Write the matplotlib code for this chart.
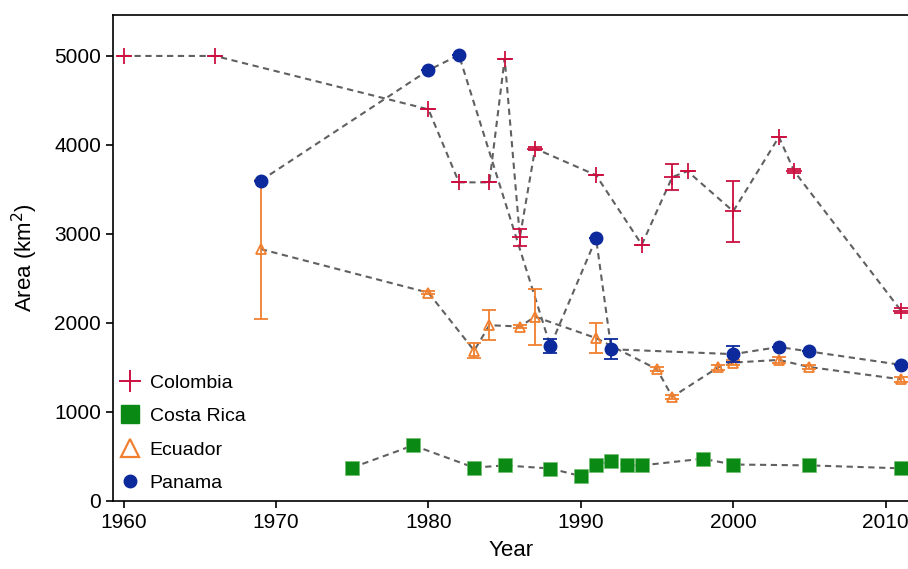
import numpy as np
import matplotlib
matplotlib.use('Agg')
import matplotlib.pyplot as plt
from matplotlib.lines import Line2D

plt.rcParams['font.family'] = ['Liberation Sans', 'DejaVu Sans']

# Colombia
col_year = [1960, 1966, 1980, 1982, 1984, 1985, 1986, 1987, 1991, 1994, 1996, 1997, 2000, 2003, 2004, 2011]
col_area = [5000, 5000, 4400, 3580, 3580, 4970, 2965, 3960, 3660, 2880, 3640, 3705, 3255, 4090, 3705, 2140]
col_err = [0, 0, 0, 0, 0, 0, 95, 20, 0, 0, 150, 0, 345, 0, 25, 25]

# Costa Rica
cr_year = [1975, 1979, 1983, 1985, 1988, 1990, 1991, 1992, 1993, 1994, 1998, 2000, 2005, 2011]
cr_area = [375, 625, 375, 400, 365, 280, 400, 455, 400, 400, 475, 410, 400, 367]

# Ecuador
ec_year = [1969, 1980, 1983, 1984, 1986, 1987, 1991, 1995, 1996, 1999, 2000, 2003, 2005, 2011]
ec_area = [2830, 2340, 1690, 1975, 1960, 2070, 1830, 1480, 1170, 1500, 1555, 1585, 1505, 1367]
ec_err = [780, 20, 85, 170, 20, 315, 165, 25, 25, 25, 30, 30, 25, 25]

# Panama
pa_year = [1969, 1980, 1982, 1988, 1991, 1992, 2000, 2003, 2005, 2011]
pa_area = [3600, 4840, 5010, 1740, 2950, 1705, 1650, 1730, 1680, 1530]
pa_err = [0, 0, 0, 75, 0, 110, 90, 0, 0, 0]

RED = '#cc1040'
GREEN = '#0a8a14'
ORANGE = '#f08030'
BLUE = '#0c2a9c'
DASH = '#606060'

fig = plt.figure(figsize=(9.08, 5.69), dpi=100)
ax = fig.add_axes([113 / 908, 68 / 569, 797 / 908, 486 / 569])

for yrs, vals in [(col_year, col_area), (cr_year, cr_area), (ec_year, ec_area), (pa_year, pa_area)]:
    ax.plot(yrs, vals, linestyle=(0, (3, 2.2)), color=DASH, linewidth=1.5, zorder=1)

ax.errorbar(ec_year, ec_area, yerr=ec_err, fmt='^', ms=7, mfc='none', mec=ORANGE,
            mew=1.3, ecolor=ORANGE, elinewidth=1.3, capsize=5, capthick=1.3, zorder=3)
ax.errorbar(col_year, col_area, yerr=col_err, fmt='+', ms=11, mec=RED, mew=1.3,
            ecolor=RED, elinewidth=1.3, capsize=5, capthick=1.3, zorder=3)
ax.errorbar(pa_year, pa_area, yerr=pa_err, fmt='o', ms=9, mfc=BLUE, mec=BLUE,
            ecolor=BLUE, elinewidth=1.3, capsize=5, capthick=1.3, zorder=4)
ax.plot(cr_year, cr_area, 's', ms=10, color=GREEN, mec='#6fbf6f', mew=0.5, zorder=4)

ax.set_xlim(1959.3, 2011.6)
ax.set_ylim(0, 5460)
ax.set_xticks(np.arange(1960, 2011, 10))
ax.set_yticks(np.arange(0, 5001, 1000))
ax.tick_params(labelsize=15, length=5, width=1.2)
for s in ax.spines.values():
    s.set_linewidth(1.2)
ax.set_xlabel('Year', fontsize=16, labelpad=6)
ax.set_ylabel('Area (km$^2$)', fontsize=16, labelpad=10)

handles = [
    Line2D([], [], linestyle='none', marker='+', ms=16, mew=1.4, color=RED),
    Line2D([], [], linestyle='none', marker='s', ms=13, color=GREEN),
    Line2D([], [], linestyle='none', marker='^', ms=13, mfc='none', mec=ORANGE, mew=1.6),
    Line2D([], [], linestyle='none', marker='o', ms=9, color=BLUE),
]
ax.legend(handles, ['Colombia', 'Costa Rica', 'Ecuador', 'Panama'], loc='lower left',
          frameon=False, fontsize=14, handlelength=1.0, handletextpad=0.5,
          labelspacing=0.82, borderaxespad=0.2, bbox_to_anchor=(-0.005, -0.006))

fig.savefig('out.png', dpi=100)
plt.close('all')
